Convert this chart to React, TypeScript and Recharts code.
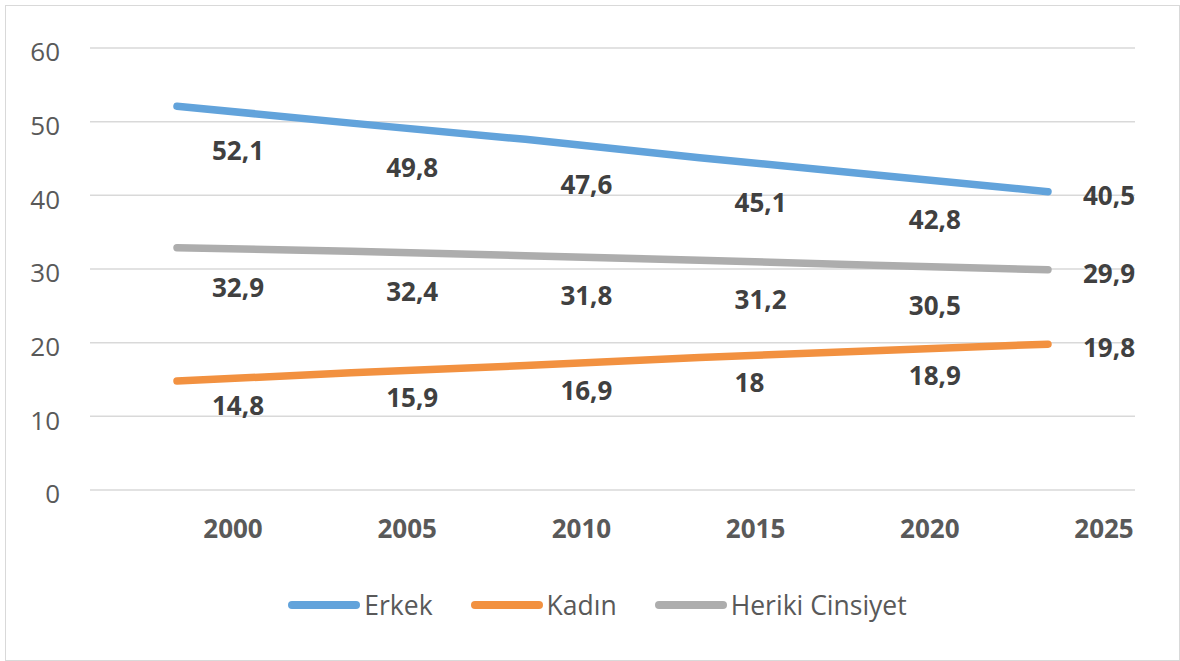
import React from "react";
import { LineChart, Line, XAxis, YAxis, CartesianGrid, Legend, LabelList } from "recharts";

const years = ["2000", "2005", "2010", "2015", "2020", "2025"];
const erkek = [52.1, 49.8, 47.6, 45.1, 42.8, 40.5];
const kadin = [14.8, 15.9, 16.9, 18, 18.9, 19.8];
const herikiCinsiyet = [32.9, 32.4, 31.8, 31.2, 30.5, 29.9];
const yTicks = [0, 10, 20, 30, 40, 50, 60];

const data = years.map((year, i) => ({
  year,
  erkek: erkek[i],
  kadin: kadin[i],
  heriki: herikiCinsiyet[i],
}));

const FONT = "'Open Sans', sans-serif";

// label offset below the point, per series (excel placed them by hand)
const series = [
  { key: "erkek", name: "Erkek", color: "#62A3DB", labelDy: 45 },
  { key: "kadin", name: "Kadın", color: "#F29140", labelDy: 25 },
  { key: "heriki", name: "Heriki Cinsiyet", color: "#ADADAD", labelDy: 40 },
];

const fmt = (v: number) => String(v).replace(".", ",");

const makeLabel = (dy: number) => (props: any) => {
  const { x, y, value, index } = props;
  const last = index === years.length - 1;
  const ty = (last ? y + 4 : y + dy) + 9.3;
  return (
    <text
      x={x + 35}
      y={ty}
      textAnchor="start"
      fill="#404040"
      fontSize={26}
      fontWeight="bold"
      fontFamily={FONT}
    >
      {fmt(value)}
    </text>
  );
};

const LegendContent = () => (
  <div
    style={{
      height: 40,
      display: "flex",
      alignItems: "center",
      justifyContent: "center",
      paddingLeft: 60,
      fontFamily: FONT,
      fontSize: 26.5,
      color: "#595959",
    }}
  >
    {series.map((s, i) => (
      <div key={s.key} style={{ display: "flex", alignItems: "center", marginLeft: i === 0 ? 0 : 38 }}>
        <div style={{ width: 72, height: 8, borderRadius: 4, background: s.color, marginRight: 4 }} />
        <span>{s.name}</span>
      </div>
    ))}
  </div>
);

export default function App() {
  return (
    <div style={{ position: "absolute", left: 0, top: 0, width: 1180, height: 661, background: "#fff" }}>
      <div
        style={{
          position: "absolute",
          left: 5,
          top: 5,
          width: 1175,
          height: 656,
          border: "1px solid #D9D9D9",
          boxSizing: "border-box",
        }}
      />
      <div style={{ position: "absolute", left: 0, top: 0 }}>
        <LineChart width={1180} height={661} data={data} margin={{ top: 48, right: 45, left: 0, bottom: 36 }}>
          <CartesianGrid vertical={false} stroke="#D9D9D9" strokeWidth={1.5} />
          <XAxis
            dataKey="year"
            axisLine={false}
            tickLine={false}
            tickSize={0}
            tickMargin={30}
            height={95}
            padding={{ left: 87, right: 87 }}
            tick={{ fill: "#595959", fontSize: 26, fontWeight: "bold", fontFamily: FONT, dx: 56 }}
          />
          <YAxis
            domain={[0, 60]}
            ticks={yTicks}
            axisLine={false}
            tickLine={false}
            tickSize={0}
            tickMargin={30}
            width={90}
            tick={{ fill: "#595959", fontSize: 26, fontFamily: FONT, dy: 4 }}
          />
          <Legend verticalAlign="bottom" content={<LegendContent />} />
          {series.map((s) => (
            <Line
              key={s.key}
              type="linear"
              dataKey={s.key}
              name={s.name}
              stroke={s.color}
              strokeWidth={7.5}
              strokeLinecap="round"
              dot={false}
              isAnimationActive={false}
            >
              <LabelList dataKey={s.key} content={makeLabel(s.labelDy)} />
            </Line>
          ))}
        </LineChart>
      </div>
    </div>
  );
}
